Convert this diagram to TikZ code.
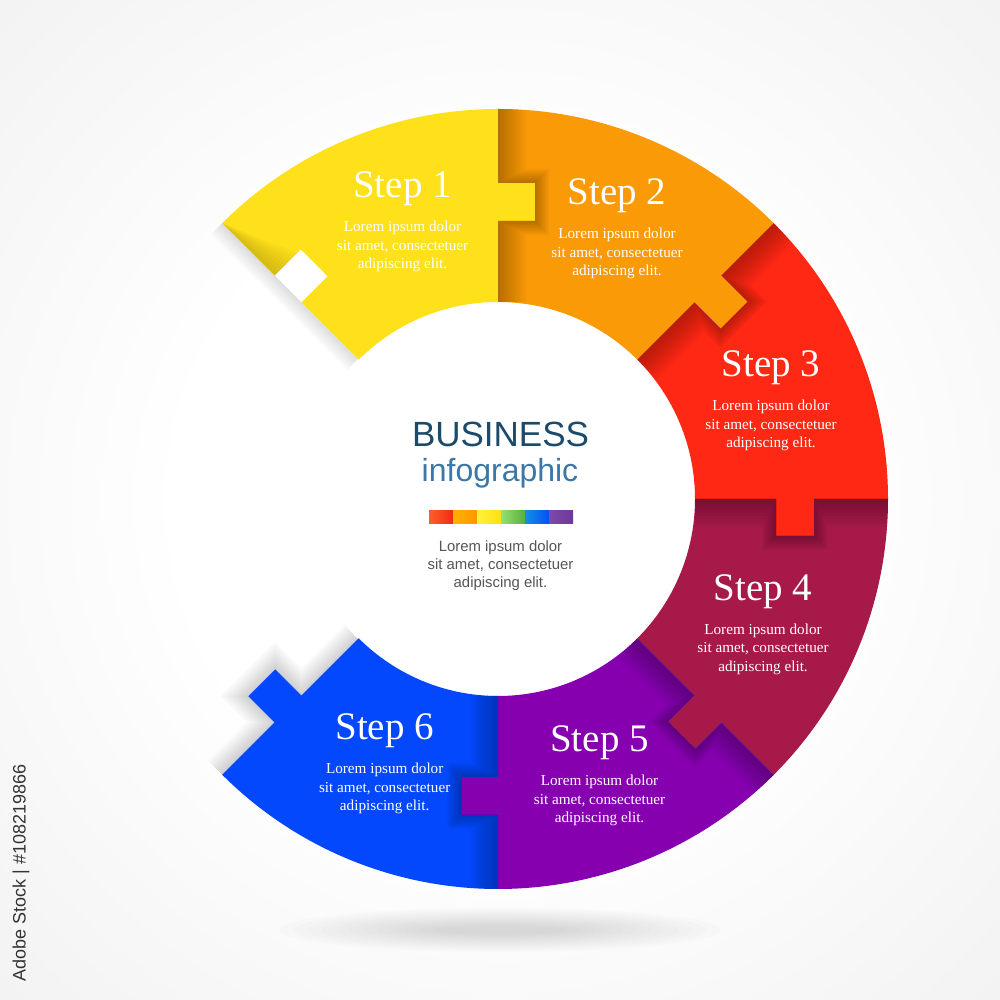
\documentclass[tikz,border=0pt]{standalone}
\usepackage{fontspec}
\setmainfont{Liberation Serif}
\newfontfamily\sansf{Liberation Sans}
\usetikzlibrary{calc}

\definecolor{cA}{HTML}{FEE01B}
\definecolor{cB}{HTML}{FA9A07}
\definecolor{cC}{HTML}{FE2814}
\definecolor{cD}{HTML}{A71949}
\definecolor{cE}{HTML}{8600B0}
\definecolor{cF}{HTML}{0348FD}
\definecolor{bgmid}{HTML}{F1F1F1}
\definecolor{bgedge}{HTML}{E1E1E1}
\definecolor{bizblue}{HTML}{1B4A6B}
\definecolor{infoblue}{HTML}{3C77A8}
\definecolor{loremgray}{HTML}{555555}
\definecolor{wmgray}{HTML}{333333}
\definecolor{barAl}{HTML}{FF5E2A}\definecolor{barAr}{HTML}{F02C14}
\definecolor{barBl}{HTML}{FFB200}\definecolor{barBr}{HTML}{FF9600}
\definecolor{barCl}{HTML}{FFF23A}\definecolor{barCr}{HTML}{FFDF12}
\definecolor{barDl}{HTML}{94E070}\definecolor{barDr}{HTML}{58AE3E}
\definecolor{barEl}{HTML}{1290E6}\definecolor{barEr}{HTML}{0450F2}
\definecolor{barFl}{HTML}{7C4AAA}\definecolor{barFr}{HTML}{6E3898}

\pgfdeclareradialshading{bgshade}{\pgfpoint{0bp}{0bp}}{color(0bp)=(white); color(16bp)=(white); color(38bp)=(bgmid); color(71bp)=(bgedge)}

\def\RRo{390}
\def\RRi{197}
\def\RRa{278}
\def\RRb{316}
\def\TD{37}
\def\TW{38}

% one ring piece from angle #1 (ccw edge, with notch) to #2 (cw edge, with tab)
\newcommand\ringpiece[2]{(#1:\RRo) arc[start angle=#1, end angle=#2, radius=\RRo]
  -- (#2:\RRb) -- ++(#2-90:\TD) -- ++(#2+180:\TW) -- ++(#2+90:\TD)
  -- (#2:\RRi) arc[start angle=#2, end angle=#1, radius=\RRi]
  -- (#1:\RRa) -- ++(#1-90:\TD) -- ++(#1:\TW) -- ++(#1+90:\TD) -- cycle}

\begin{document}
\begin{tikzpicture}[x=1pt,y=1pt,
  steptitle/.style={font=\fontsize{39}{45}\selectfont, text=white, inner sep=0pt, anchor=base},
  steplorem/.style={font=\fontsize{15.2}{18}\selectfont, text=white, inner sep=0pt, anchor=base},
  centerlorem/.style={font=\sansf\fontsize{14.9}{18}\selectfont, text=loremgray, inner sep=0pt, anchor=base}]

% background
\shade[shading=bgshade] (0,0) rectangle (1000,1000);
\useasboundingbox (0,0) rectangle (1000,1000);

% soft floor shadow
\foreach \i in {1,...,12} {
  \fill[black, opacity=0.011] (500,70) ellipse [x radius={235-14*\i}, y radius={24-1.6*\i}];
}

\begin{scope}[shift={(498,501)}]
  % shadows cast on the background by the open ends
  \begin{scope}[rotate=135]
    \foreach \i in {1,...,8} {
      \pgfmathsetmacro\w{2*\i}
      \fill[black, opacity=0.016] (\RRi,0) -- (\RRo,0) -- (\RRo,\w) -- (\RRi,\w) -- cycle;
    }
  \end{scope}
  \begin{scope}[rotate=-135]
    \foreach \i in {1,...,9} {
      \pgfmathsetmacro\w{2.2*\i}
      \fill[black, opacity=0.02] (\RRi,0) -- (\RRo,0) -- (\RRo,-\w) -- (\RRi,-\w) -- cycle
        (\RRa-\w,0) -- (\RRb+\w,0) -- (\RRb+\w,-\TD-\w) -- (\RRa-\w,-\TD-\w) -- cycle;
    }
  \end{scope}

  % inner white disc
  \fill[white] (0,0) circle[radius=\RRi+1];

  % ring pieces
  \foreach \a/\c in {135/cA, 90/cB, 45/cC, 0/cD, -45/cE, -90/cF} {
    \pgfmathsetmacro\b{\a-45}
    \fill[\c] \ringpiece{\a}{\b};
  }

  % fold shading along each piece's notched edge
  \foreach \a in {90, 45, 0, -45, -90} {
    \pgfmathsetmacro\b{\a-45}
    \begin{scope}
      \clip \ringpiece{\a}{\b};
      \begin{scope}[rotate=\a]
        \foreach \i in {1,...,10} {
          \pgfmathsetmacro\w{2.8*\i}
          \fill[black, opacity=0.026] (\RRi,0) -- (\RRo,0) -- (\RRo,-\w) -- (\RRi,-\w) -- cycle
            (\RRa-0.5*\w,0) -- (\RRb+0.5*\w,0) -- (\RRb+0.5*\w,-\TD-0.5*\w) -- (\RRa-0.5*\w,-\TD-0.5*\w) -- cycle;
        }
      \end{scope}
    \end{scope}
  }
  % fold of the first piece near its open outer corner
  \begin{scope}
    \clip \ringpiece{135}{90};
    \begin{scope}[rotate=135]
      \foreach \i in {1,...,8} {
        \pgfmathsetmacro\w{4*\i}
        \fill[black, opacity=0.02] (\RRb,0) -- (\RRo,0) -- (\RRb,-\w) -- cycle;
      }
    \end{scope}
  \end{scope}
\end{scope}

% step texts
\foreach \n/\x/\y in {1/402.5/198, 2/617/205, 3/771/377, 4/763/600.5, 5/599.5/752, 6/384.7/740} {
  \node[steptitle] (t\n) at (\x, 1000-\y) {Step \n};
  \node[steplorem] (la\n) at (\x, 966-\y) {Lorem ipsum dolor};
  \node[steplorem] (lb\n) at (\x, 947.7-\y) {sit amet, consectetuer};
  \node[steplorem] (lc\n) at (\x, 929.4-\y) {adipiscing elit.};
}

% centre
\node[font=\sansf\fontsize{35}{40}\selectfont, text=bizblue, inner sep=0pt, anchor=base] (biz) at (500.5,553.3) {BUSINESS};
\node[font=\sansf\fontsize{32}{38}\selectfont, text=infoblue, inner sep=0pt, anchor=base] (info) at (500,518.3) {infographic};
\foreach \l/\r [count=\k] in {barAl/barAr, barBl/barBr, barCl/barCr, barDl/barDr, barEl/barEr, barFl/barFr} {
  \shade[left color=\l, right color=\r] ({429+24*(\k-1)},476.7) rectangle ({429+24*\k},489);
}
\node[centerlorem] (cl1) at (500.5,448.3) {Lorem ipsum dolor};
\node[centerlorem] (cl2) at (500.5,430) {sit amet, consectetuer};
\node[centerlorem] (cl3) at (500.5,412.3) {adipiscing elit.};

% side label
\node[rotate=90, font=\sansf\fontsize{18}{20}\selectfont, text=wmgray, inner sep=0pt] (wm) at (21,127) {Adobe Stock | \#108219866};
\end{tikzpicture}
\end{document}
